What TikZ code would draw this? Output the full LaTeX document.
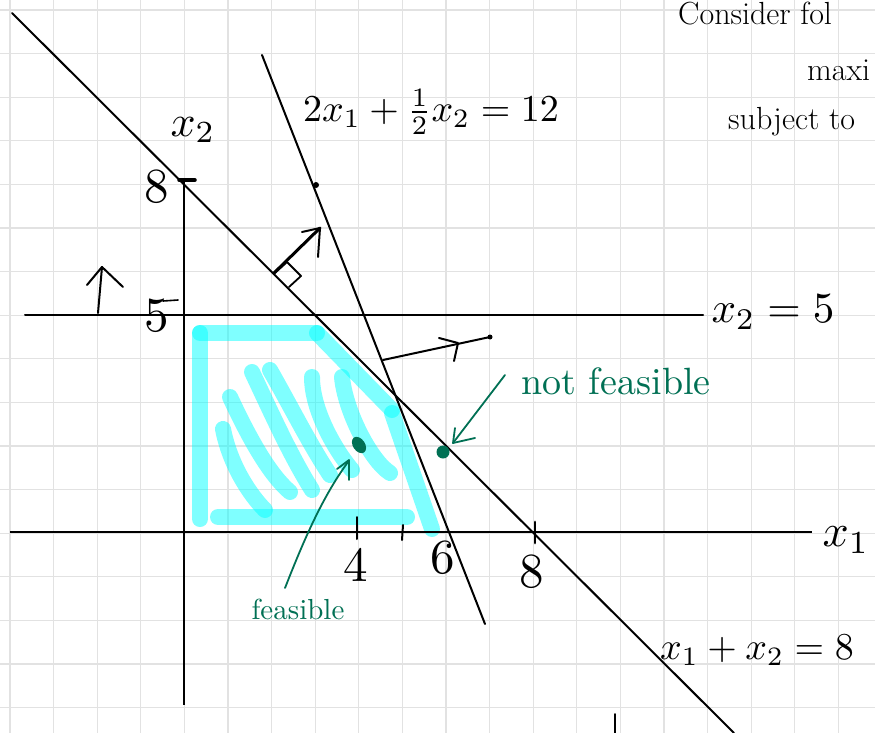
\documentclass[tikz,border=0pt]{standalone}
\usepackage{graphicx}
\usepackage{amsmath}
\definecolor{hlcyan}{RGB}{0,255,255}
\definecolor{feasgreen}{RGB}{0,112,84}
\definecolor{gridgray}{RGB}{226,226,226}
\newcommand{\hwmath}[2]{\scalebox{#1}{\fontsize{10}{12}\selectfont$#2$}}
\newcommand{\hwtext}[2]{\scalebox{#1}{\fontsize{10}{12}\selectfont #2}}
\begin{document}
\begin{tikzpicture}[x=1pt,y=-1pt,
  gridline/.style={line width=1.2pt, gridgray},
  ink/.style={line width=2pt, black, line cap=round, line join=round},
  axisline/.style={line width=2.4pt, black},
  hl/.style={line width=16pt, hlcyan, opacity=0.5, line cap=round, line join=round},
  grn/.style={line width=1.8pt, feasgreen, line cap=round, line join=round},
  mlabel/.style={inner sep=0pt},
  dlabel/.style={inner sep=0pt},
  note/.style={inner sep=0pt, anchor=base west, font=\fontsize{32}{36}\selectfont},
  gnote/.style={inner sep=0pt, text=feasgreen},
]
\useasboundingbox (0,0) rectangle (875,733);
\clip (0,0) rectangle (875,733);
\fill[white] (0,0) rectangle (875,733);
% grid
\foreach \i in {0,...,19} \draw[gridline] ({10+43.6*\i},0) -- ({10+43.6*\i},733);
\foreach \j in {0,...,16} \draw[gridline] (0,{10+43.6*\j}) -- (875,{10+43.6*\j});
% feasible region highlight
\draw[hl] (200,333) -- (200,519);
\draw[hl] (200,333) -- (317,333);
\draw[hl] (317,333) -- (392,410);
\draw[hl] (392,413) -- (432,529);
\draw[hl] (218,517) -- (407,517);
\draw[hl] (223,429) .. controls (230,465) and (250,495) .. (265,510);
\draw[hl] (230,397) .. controls (250,440) and (270,475) .. (290,492);
\draw[hl] (252,372) .. controls (270,410) and (290,455) .. (312,490);
\draw[hl] (270,370) .. controls (290,405) and (310,445) .. (330,475);
\draw[hl] (312,377) .. controls (312,410) and (335,450) .. (352,470);
\draw[hl] (342,377) .. controls (345,410) and (370,460) .. (390,473);
% axes
\draw[axisline] (10,532) -- (812,532);
\draw[axisline] (184,178) -- (184,705);
% constraint lines
\draw[ink] (25,315) -- (703,315);
\draw[ink] (12,13) -- (734,733);
\draw[ink] (262,55) -- (485,624);
% ticks
\draw[line width=3.5pt, line cap=round] (179,180) -- (195,180);
\draw[ink, line width=1.6pt] (163,301) -- (178,300);
\draw[ink] (357,517) -- (357,539);
\draw[ink] (403,525) -- (402,540);
\draw[line width=2.8pt, line cap=round] (535,522) -- (535,543);
\draw[ink] (615,714) -- (615,735);
% arrow for x2 <= 5
\draw[ink] (98,313) -- (102,267);
\draw[ink] (87,285) -- (102,267) -- (123,287);
% normal arrow for x1+x2 <= 8
\draw[line width=3pt, line cap=round] (274,273) -- (320,228);
\draw[ink] (302,232) -- (320,228) -- (318,257);
\draw[ink, line width=1.8pt] (275,273) -- (287,262) -- (301,276) -- (289,287);
\fill (316,185) circle (3);
% arrow for 2x1 + x2/2 <= 12
\draw[ink] (383,360) -- (490,337);
\draw[ink] (439,338) -- (458,343) -- (454,361);
\fill (490,337) circle (2.5);
% labels
\node[mlabel] (lx2) at (193,130) {\hwmath{4.4}{x_2}};
\node[dlabel] (l8y) at (157,187) {\hwtext{4.9}{8}};
\node[dlabel] (l5y) at (157,316) {\hwtext{4.9}{5}};
\node[mlabel] (lc2) at (431,112) {\hwmath{3.8}{2x_1+\tfrac{1}{2}x_2=12}};
\node[mlabel] (lc3) at (773,312) {\hwmath{4.3}{x_2=5}};
\node[mlabel] (lx1) at (846,540) {\hwmath{4.6}{x_1}};
\node[dlabel] (l4) at (356,565) {\hwtext{4.9}{4}};
\node[dlabel] (l6) at (443,558) {\hwtext{4.9}{6}};
\node[dlabel] (l8x) at (532,572) {\hwtext{4.9}{8}};
\node[mlabel] (lc1) at (757,650) {\hwmath{3.8}{x_1+x_2=8}};
% notes top right
\node[note] (n1) at (678,25) {Consider fol};
\node[note] (n2) at (807,81) {maxi};
\node[note] (n3) at (728,130) {subject to};
% green annotations
\fill[feasgreen] (443,452) circle (6.5);
\fill[feasgreen, rotate around={-56:(359,445)}] (359,445) ellipse (9 and 6);
\node[gnote] (nf) at (616,381) {\hwtext{3.8}{not feasible}};
\node[gnote] (fs) at (298,609) {\hwtext{2.9}{feasible}};
\draw[grn] (505,375) -- (453,443);
\draw[grn] (455,428) -- (453,443) -- (475,438);
\draw[grn] (285,588) .. controls (300,550) and (320,500) .. (348,462);
\draw[grn] (337,469) -- (349,460) -- (349,480);
\end{tikzpicture}
\end{document}
